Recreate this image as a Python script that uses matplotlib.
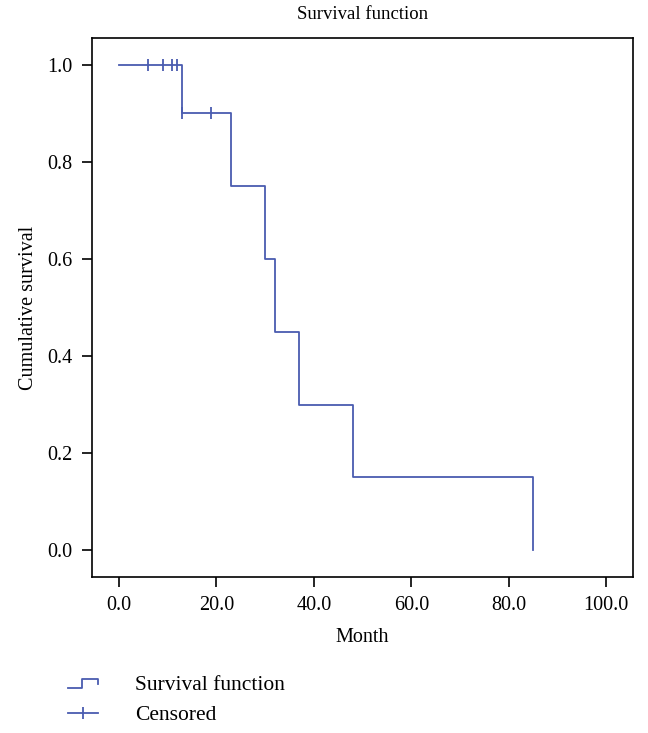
import numpy as np
import matplotlib
matplotlib.use("Agg")
import matplotlib.pyplot as plt
from matplotlib.lines import Line2D
from matplotlib.legend_handler import HandlerBase

# Kaplan-Meier step data (months, cumulative survival)
event_times = [0, 13, 23, 30, 32, 37, 48, 85]
survival = [1.0, 0.9, 0.75, 0.6, 0.45, 0.3, 0.15, 0.0]
censor_times = [6, 9, 11, 12, 13, 19]
censor_surv = [1.0, 1.0, 1.0, 1.0, 0.9, 0.9]

x_ticks = [0, 20, 40, 60, 80, 100]
y_ticks = [0.0, 0.2, 0.4, 0.6, 0.8, 1.0]

BLUE = "#4a5cb0"

plt.rcParams.update({
    "font.family": ["Liberation Serif", "DejaVu Serif"],
    "font.size": 14.5,
})


class StepHandler(HandlerBase):
    """Legend glyph drawn as a small step."""
    def create_artists(self, legend, orig_handle, xdescent, ydescent,
                       width, height, fontsize, trans):
        y0 = -ydescent + 0.1 * height
        y1 = -ydescent + 0.7 * height
        xs = [-xdescent, -xdescent + 0.45 * width, -xdescent + 0.45 * width,
              -xdescent + width, -xdescent + width]
        ys = [y0, y0, y1, y1, y0 + 0.25 * height]
        ln = Line2D(xs, ys, color=orig_handle.get_color(), lw=orig_handle.get_linewidth())
        ln.set_transform(trans)
        return [ln]


fig = plt.figure(figsize=(6.48, 7.33), dpi=100)
ax = fig.add_axes([0.142, 0.213, 0.835, 0.735])

ax.step(event_times, survival, where="post", color=BLUE, lw=1.3)
ax.plot(censor_times, censor_surv, ls="none", marker="|", ms=8, mew=1.3, color=BLUE)

ax.set_xlim(-5.5, 105.5)
ax.set_ylim(-0.055, 1.055)
ax.set_xticks(x_ticks)
ax.set_xticklabels([f"{v:.1f}" for v in x_ticks])
ax.set_yticks(y_ticks)
ax.set_yticklabels([f"{v:.1f}" for v in y_ticks])
ax.tick_params(direction="out", length=7, width=1.2, pad=7)
for s in ax.spines.values():
    s.set_linewidth(1.2)

ax.set_title("Survival function", fontsize=13.5, pad=14)
ax.set_xlabel("Month", labelpad=9)
ax.set_ylabel("Cumulative survival", labelpad=7)

h_surv = Line2D([], [], color=BLUE, lw=1.3)
h_cens = Line2D([], [], color=BLUE, lw=1.3, marker="|", ms=8, mew=1.3)
fig.legend([h_surv, h_cens], ["Survival function", "Censored"],
           handler_map={h_surv: StepHandler()},
           loc="lower left", bbox_to_anchor=(0.075, -0.016), frameon=False,
           fontsize=15.5, numpoints=1, handlelength=1.4, handletextpad=1.7,
           labelspacing=0.5)

fig.savefig("out.png", dpi=100)
